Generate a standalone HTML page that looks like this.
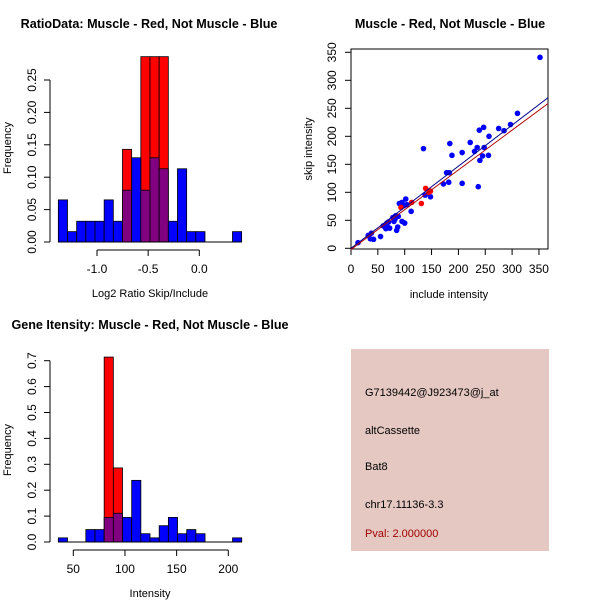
<!DOCTYPE html>
<html><head><meta charset="utf-8"><style>
body{margin:0;background:#fff}
svg{display:block;font-family:"Liberation Sans",sans-serif}
</style></head><body>
<svg id="c" width="600" height="600" xmlns="http://www.w3.org/2000/svg">
<rect width="600" height="600" fill="#fff"/>
<text x="149" y="28" text-anchor="middle" font-size="12.6" font-weight="bold">RatioData: Muscle - Red, Not Muscle - Blue</text>
<text x="450" y="28" text-anchor="middle" font-size="12.6" font-weight="bold">Muscle - Red, Not Muscle - Blue</text>
<text x="150" y="329" text-anchor="middle" font-size="12.6" font-weight="bold">Gene Itensity: Muscle - Red, Not Muscle - Blue</text>
<rect x="351" y="349" width="198" height="202" fill="#e6c8c2"/>
<g font-size="11">
<text x="365" y="396">G7139442@J923473@j_at</text>
<text x="365" y="434">altCassette</text>
<text x="365" y="470">Bat8</text>
<text x="365" y="508">chr17.11136-3.3</text>
<text x="365" y="537" fill="#a00000">Pval: 2.000000</text>
</g>
<g id="g1"></g>
<g id="g2"></g>
<g id="g3"></g>
</svg>
<script>
// Ratio histogram data
const ratioStart = -1.378;
const ratioWidth = 0.0896;
const ratioBlue = [0.065,0.016,0.032,0.032,0.032,0.065,0.032,0.08,0.13,0.08,0.13,0.113,0.032,0.113,0.016,0.016,0,0,0,0.016];
const ratioRed = [0,0,0,0,0,0,0,0.143,0,0.286,0.286,0.286,0,0,0,0,0,0,0,0];
const ratioXTicks = [-1.0,-0.5,0.0];
const ratioXLabels = ["-1.0","-0.5","0.0"];
const ratioYTicks = [0,0.05,0.1,0.15,0.2,0.25];
const ratioYLabels = ["0.00","0.05","0.10","0.15","0.20","0.25"];
// Intensity histogram data
const intStart = 35.5;
const intWidth = 8.875;
const intBlue = [0.016,0,0,0.048,0.048,0.095,0.111,0.095,0.238,0.032,0.016,0.063,0.095,0.032,0.048,0.032,0,0,0,0.016];
const intRed = [0,0,0,0,0,0.714,0.286,0,0,0,0,0,0,0,0,0,0,0,0,0];
const intXTicks = [50,100,150,200];
const intYTicks = [0,0.1,0.2,0.3,0.4,0.5,0.6,0.7];
const intYLabels = ["0.0","0.1","0.2","0.3","0.4","0.5","0.6","0.7"];
// Scatter data
const blueX = [13,32,38,36,42,55,65,67,68,72,78,80,82,85,87,88,90,95,95,100,102,104,112,135,138,148,172,178,182,183,184,188,207,207,222,230,235,237,239,240,245,247,248,256,257,275,285,297,310,352,60,70,83,98];
const blueY = [10,23,27,17,16,21,35,45,38,36,55,48,52,32,38,57,80,82,48,45,88,78,66,178,95,92,115,135,118,135,187,166,171,116,189,173,180,110,211,157,165,216,180,166,200,214,210,221,241,341,40,47,58,76];
const redX = [93,113,131,139,145,148];
const redY = [73,82,80,107,100,102];
const blueFit = [0, 0.733];
const redFit = [-2, 0.71];
const scTicks = [0,50,100,150,200,250,300,350];

const NS="http://www.w3.org/2000/svg";
function mk(p,t,a){const e=document.createElementNS(NS,t);for(const k in a)e.setAttribute(k,a[k]);p.appendChild(e);return e;}

function hist(g,o){
  const sx=v=>o.x0+(v-o.xv0)*o.kx, sy=v=>o.y0-v*o.ky;
  o.red.forEach((v,i)=>{ if(v<=0)return;
    const r=mk(g,'rect',{x:sx(o.start+i*o.w),y:sy(v),width:o.w*o.kx,height:v*o.ky,fill:'#ff0000',stroke:'#000','stroke-width':0.8});
    
    
  });
  o.blue.forEach((v,i)=>{ if(v<=0)return;
    const ov=o.red[i]>0;
    const r=mk(g,'rect',{x:sx(o.start+i*o.w),y:sy(v),width:o.w*o.kx,height:v*o.ky,fill:ov?'#800080':'#0000ff',stroke:'#000','stroke-width':0.8});
    
    
  });
  const n=o.blue.length;
  mk(g,'line',{x1:sx(o.start),x2:sx(o.start+n*o.w),y1:o.y0,y2:o.y0,stroke:'#000'});
  const ax=o.y0+8;
  mk(g,'line',{x1:sx(o.xt[0]),x2:sx(o.xt[o.xt.length-1]),y1:ax,y2:ax,stroke:'#000'});
  o.xt.forEach((t,i)=>{mk(g,'line',{x1:sx(t),x2:sx(t),y1:ax,y2:ax+6,stroke:'#000'});
    const tx=mk(g,'text',{x:sx(t),y:ax+23,'text-anchor':'middle','font-size':12});tx.textContent=o.xl[i];
    
    });
  const lx=o.ylx;
  mk(g,'line',{x1:lx,x2:lx,y1:sy(o.yt[0]),y2:sy(o.yt[o.yt.length-1]),stroke:'#000'});
  o.yt.forEach((t,i)=>{mk(g,'line',{x1:lx,x2:lx-6,y1:sy(t),y2:sy(t),stroke:'#000'});
    const tx=mk(g,'text',{x:lx-14,y:sy(t),'text-anchor':'middle','font-size':12,transform:`rotate(-90 ${lx-14} ${sy(t)})`});tx.textContent=o.yl[i];
    
    });
  const xt=mk(g,'text',{x:o.xlx,y:o.y0+55,'text-anchor':'middle','font-size':11});xt.textContent=o.xlab;
  
  
  const yt=mk(g,'text',{x:11,y:o.ymid,'text-anchor':'middle','font-size':11,transform:`rotate(-90 11 ${o.ymid})`});yt.textContent='Frequency';
  
  
}
hist(document.getElementById('g1'),{x0:199.3,xv0:0,kx:102.3,y0:242,ky:648,start:ratioStart,w:ratioWidth,red:ratioRed,blue:ratioBlue,xt:ratioXTicks,xl:ratioXLabels,yt:ratioYTicks,yl:ratioYLabels,ylx:50,xlab:'Log2 Ratio Skip/Include',xlx:150,ymid:148});
hist(document.getElementById('g3'),{x0:73.3,xv0:50,kx:1.0333,y0:542,ky:259,start:intStart,w:intWidth,red:intRed,blue:intBlue,xt:intXTicks,xl:intXTicks.map(String),yt:intYTicks,yl:intYLabels,ylx:50,xlab:'Intensity',xlx:150,ymid:450});

(function(){
  const g=document.getElementById('g2');
  const sx=v=>351+v*0.537, sy=v=>248.3-v*0.56;
  mk(g,'rect',{x:351,y:49,width:197,height:200,fill:'none',stroke:'#000'});
  scTicks.forEach(t=>{
    mk(g,'line',{x1:sx(t),x2:sx(t),y1:249,y2:255,stroke:'#000'});
    const a=mk(g,'text',{x:sx(t),y:273,'text-anchor':'middle','font-size':12});a.textContent=t;
    
    
    mk(g,'line',{x1:351,x2:345,y1:sy(t),y2:sy(t),stroke:'#000'});
    const b=mk(g,'text',{x:336,y:sy(t),'text-anchor':'middle','font-size':12,transform:`rotate(-90 336 ${sy(t)})`});b.textContent=t;
    
    
  });
  const xt=mk(g,'text',{x:449,y:298,'text-anchor':'middle','font-size':11});xt.textContent='include intensity';
  
  
  const yt=mk(g,'text',{x:312,y:149,'text-anchor':'middle','font-size':11,transform:'rotate(-90 312 149)'});yt.textContent='skip intensity';
  
  
  blueX.forEach((x,i)=>{const c=mk(g,'circle',{cx:sx(x),cy:sy(blueY[i]),r:2.8,fill:'#0000ff'});
    
    });
  redX.forEach((x,i)=>{const c=mk(g,'circle',{cx:sx(x),cy:sy(redY[i]),r:2.8,fill:'#ff0000'});
    
    });
  const xe=367;
  const bl=mk(g,'line',{x1:sx(0),y1:sy(blueFit[0]),x2:sx(xe),y2:sy(blueFit[0]+blueFit[1]*xe),stroke:'#00008b'});
  
  
  const rl=mk(g,'line',{x1:sx(0),y1:sy(redFit[0]),x2:sx(xe),y2:sy(redFit[0]+redFit[1]*xe),stroke:'#b00000'});
  
  
})();
</script>
</body></html>
